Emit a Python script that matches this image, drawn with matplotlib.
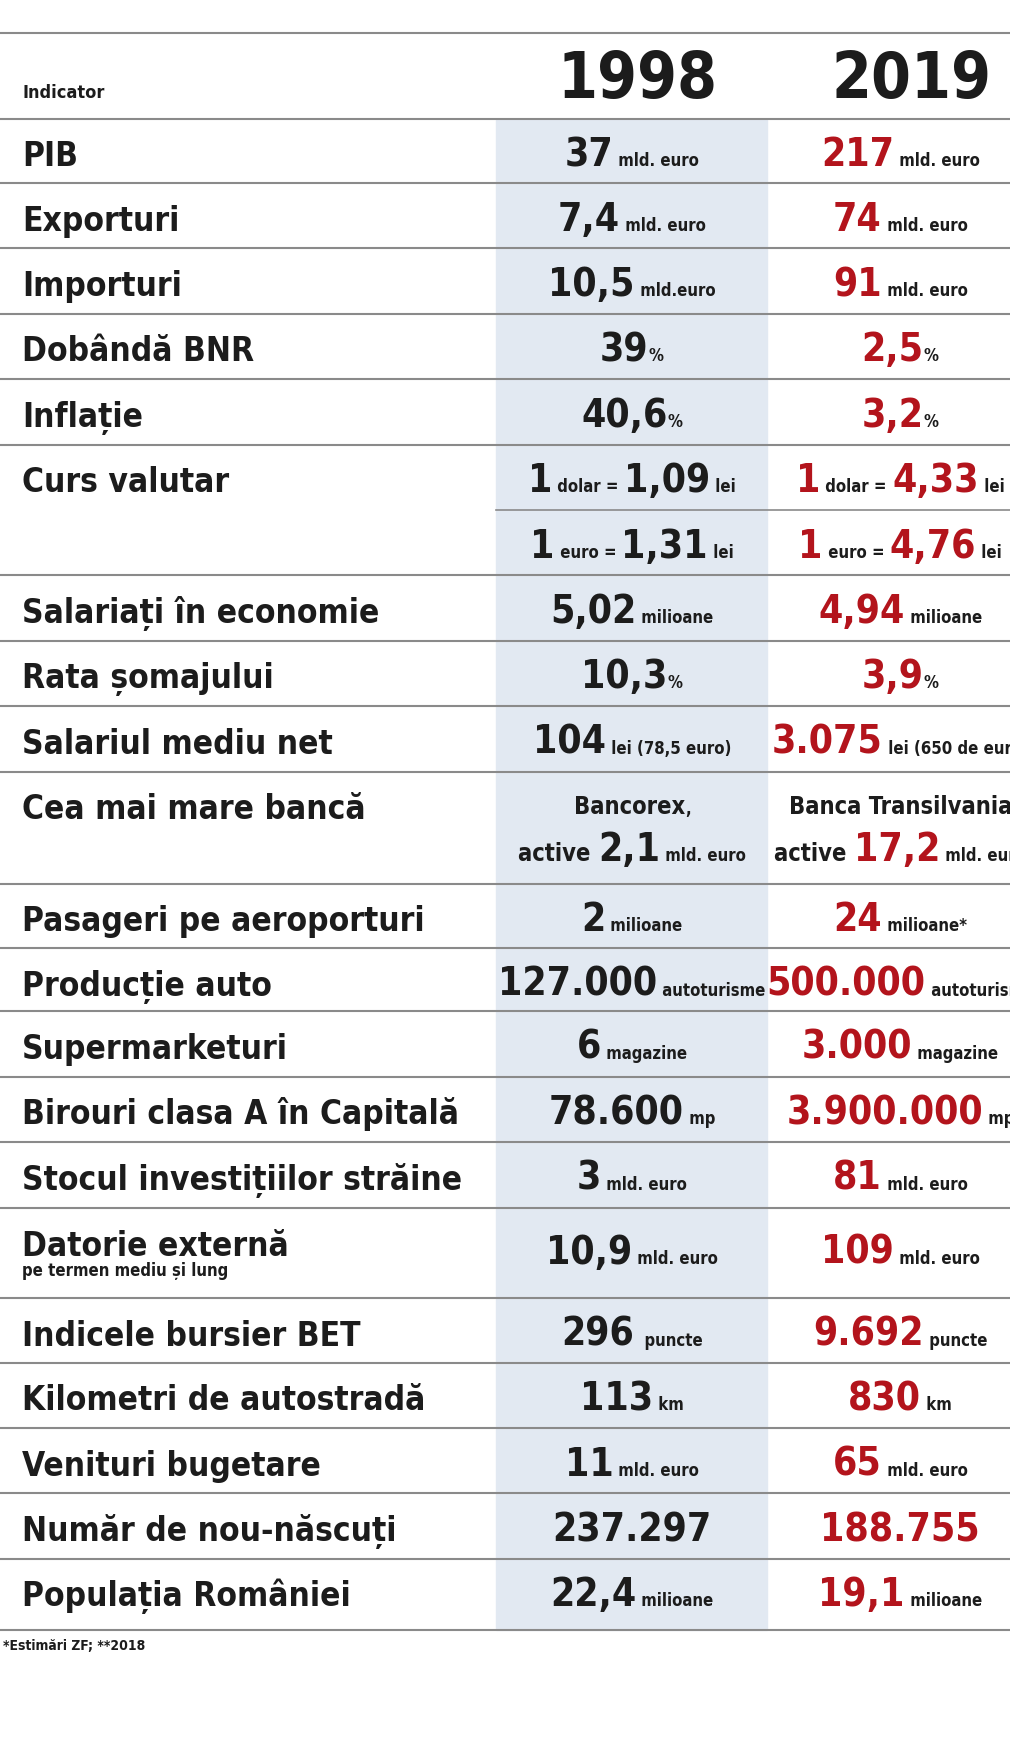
import matplotlib
matplotlib.use("Agg")
import matplotlib.pyplot as plt
from matplotlib import font_manager as fm

names = {f.name for f in fm.fontManager.ttflist}
FAM = ['Liberation Sans Narrow', 'DejaVu Sans'] if 'Liberation Sans Narrow' in names else ['DejaVu Sans']
STRETCH = 'normal' if 'Liberation Sans Narrow' in names else 'condensed'

W, H = 1010, 1738
S = 1010 / 911.0

labels = ["PIB", "Exporturi", "Importuri", "Dobândă BNR", "Inflație", "Curs valutar",
          "Salariați în economie", "Rata șomajului", "Salariul mediu net", "Cea mai mare bancă",
          "Pasageri pe aeroporturi", "Producție auto", "Supermarketuri", "Birouri clasa A în Capitală",
          "Stocul investițiilor străine", "Datorie externă", "Indicele bursier BET",
          "Kilometri de autostradă", "Venituri bugetare", "Număr de nou-născuți", "Populația României"]
sublabels = {15: "pe termen mediu și lung"}
v1998 = [
    [[("37", 1), (" mld. euro", 0)]],
    [[("7,4", 1), (" mld. euro", 0)]],
    [[("10,5", 1), (" mld.euro", 0)]],
    [[("39", 1), ("%", 0)]],
    [[("40,6", 1), ("%", 0)]],
    [[("1", 1), (" dolar = ", 0), ("1,09", 1), (" lei", 0)], [("1", 1), (" euro = ", 0), ("1,31", 1), (" lei", 0)]],
    [[("5,02", 1), (" milioane", 0)]],
    [[("10,3", 1), ("%", 0)]],
    [[("104", 1), (" lei (78,5 euro)", 0)]],
    [[("Bancorex", 2), (",", 0)], [("active ", 2), ("2,1", 1), (" mld. euro", 0)]],
    [[("2", 1), (" milioane", 0)]],
    [[("127.000", 1), (" autoturisme", 0)]],
    [[("6", 1), (" magazine", 0)]],
    [[("78.600", 1), (" mp", 0)]],
    [[("3", 1), (" mld. euro", 0)]],
    [[("10,9", 1), (" mld. euro", 0)]],
    [[("296", 1), ("  puncte", 0)]],
    [[("113", 1), (" km", 0)]],
    [[("11", 1), (" mld. euro", 0)]],
    [[("237.297", 1)]],
    [[("22,4", 1), (" milioane", 0)]],
]
v2019 = [
    [[("217", 1), (" mld. euro", 0)]],
    [[("74", 1), (" mld. euro", 0)]],
    [[("91", 1), (" mld. euro", 0)]],
    [[("2,5", 1), ("%", 0)]],
    [[("3,2", 1), ("%", 0)]],
    [[("1", 1), (" dolar = ", 0), ("4,33", 1), (" lei", 0)], [("1", 1), (" euro = ", 0), ("4,76", 1), (" lei", 0)]],
    [[("4,94", 1), (" milioane", 0)]],
    [[("3,9", 1), ("%", 0)]],
    [[("3.075", 1), (" lei (650 de euro)", 0)]],
    [[("Banca Transilvania", 2)], [("active ", 2), ("17,2", 1), (" mld. euro", 0)]],
    [[("24", 1), (" milioane*", 0)]],
    [[("500.000", 1), (" autoturisme", 0)]],
    [[("3.000", 1), (" magazine", 0)]],
    [[("3.900.000", 1), (" mp", 0)]],
    [[("81", 1), (" mld. euro", 0)]],
    [[("109", 1), (" mld. euro", 0)]],
    [[("9.692", 1), (" puncte", 0)]],
    [[("830", 1), (" km", 0)]],
    [[("65", 1), (" mld. euro", 0)]],
    [[("188.755", 1)]],
    [[("19,1", 1), (" milioane", 0)]],
]
years = ["1998", "2019"]
footnote = "*Estimări ZF; **2018"

row_h = [58, 59, 59, 59, 59, 118, 59, 59, 59, 101, 58, 57, 59, 59, 60, 81, 58, 59, 59, 59, 64]
line_gap = 59
first_top = 107

fig = plt.figure(figsize=(W / 100, H / 100), dpi=100)
ax = fig.add_axes([0, 0, 1, 1])
ax.set_xlim(0, W)
ax.set_ylim(H, 0)
ax.axis('off')
fig.canvas.draw()
R = fig.canvas.get_renderer()

BLACK = '#1c1c1c'
RED = '#b3141c'
SIZES = {1: 28, 0: 12, 2: 17}
LINE = '#8a8a8a'

def txt(x, y, s, size, color=BLACK, ha='left', clip=False):
    return ax.text(x, y, s, fontsize=size, color=color, family=FAM, fontstretch=STRETCH,
                   fontweight='bold', ha=ha, va='baseline', clip_on=clip)

def mixed(cx, y, segs, color):
    ts = [txt(0, y, s, SIZES[b], color if b == 1 else BLACK, clip=True) for s, b in segs]
    ws = [t.get_window_extent(R).width for t in ts]
    x = cx - sum(ws) / 2
    for t, w in zip(ts, ws):
        t.set_x(x)
        x += w

total_bottom = first_top + sum(row_h)
ax.add_patch(plt.Rectangle((447 * S, first_top * S), (692 - 447) * S, (total_bottom - first_top) * S,
                           color='#e2e9f2', zorder=0))
ax.plot([0, W], [30 * S, 30 * S], color=LINE, lw=1.5)
ax.plot([0, W], [first_top * S, first_top * S], color=LINE, lw=1.5)

txt(20 * S, 88 * S, "Indicator", 13)
txt(575 * S, 88 * S, years[0], 46, ha='center')
txt(822 * S, 88 * S, years[1], 46, ha='center')

cx1, cx2 = 570 * S, 812 * S
top = first_top
for i, lab in enumerate(labels):
    h = row_h[i]
    bl = top + 43
    txt(20 * S, bl * S, lab, 24)
    if i in sublabels:
        txt(20 * S, (bl + 18) * S, sublabels[i], 12)
    nl = len(v1998[i])
    for j in range(nl):
        if i == 9:
            yb = top + 38 + j * 43
        elif i == 15:
            yb = top + 50
        else:
            yb = bl + j * line_gap
        mixed(cx1, yb * S, v1998[i][j], BLACK)
        mixed(cx2, yb * S, v2019[i][j], RED)
    if i == 5:
        ax.plot([447 * S, W], [(top + 59) * S] * 2, color=LINE, lw=1.2)
    top += h
    ax.plot([0, W], [top * S, top * S], color=LINE, lw=1.5)

txt(3 * S, (top + 18) * S, footnote, 10)

fig.savefig("out.png", dpi=100)
